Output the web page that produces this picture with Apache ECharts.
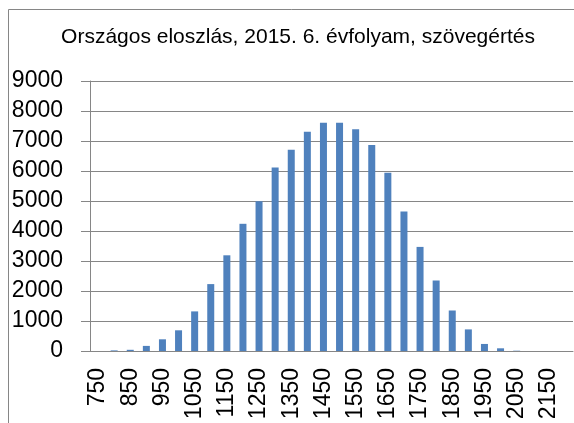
<!DOCTYPE html>
<html>
<head>
<meta charset="utf-8">
<script src="https://cdn.jsdelivr.net/npm/echarts@6/dist/echarts.min.js"></script>
<style>
    html, body { margin: 0; padding: 0; background: #ffffff; }
    #chart { width: 574px; height: 423px; }
</style>
</head>
<body>
<div id="chart"></div>
<script>
// score bands (x categories)
var scores = ['750', '800', '850', '900', '950', '1000', '1050', '1100', '1150', '1200',
    '1250', '1300', '1350', '1400', '1450', '1500', '1550', '1600', '1650', '1700',
    '1750', '1800', '1850', '1900', '1950', '2000', '2050', '2100', '2150', '2200'];
// number of students per band
var counts = [0, 20, 40, 170, 390, 690, 1320, 2230, 3190, 4240,
    4990, 6120, 6710, 7310, 7610, 7610, 7390, 6870, 5940, 4650,
    3470, 2350, 1350, 720, 235, 90, 10, 0, 0, 0];
var titleText = 'Országos eloszlás, 2015. 6. évfolyam, szövegértés';

var chart = echarts.init(document.getElementById('chart'));
var grey = '#868686';
var option = {
    backgroundColor: '#ffffff',
    animation: false,
    textStyle: { fontFamily: 'Liberation Sans' },
    title: {
        text: titleText,
        left: 293,
        top: 22,
        textAlign: 'center',
        textStyle: { fontFamily: 'Liberation Sans', fontSize: 21, fontWeight: 'normal', color: '#000000' }
    },
    graphic: [
        {
            type: 'rect',
            shape: { x: 8.5, y: 9.5, width: 700, height: 600 },
            style: { fill: 'none', stroke: grey, lineWidth: 1 },
            silent: true
        }
    ],
    grid: { left: 90, right: 1, top: 81, bottom: 72 },
    xAxis: {
        type: 'category',
        data: scores,
        boundaryGap: true,
        axisLine: { lineStyle: { color: grey } },
        axisTick: { interval: 0, length: 6, lineStyle: { color: grey } },
        axisLabel: {
            interval: 1,
            rotate: 90,
            margin: 17,
            fontSize: 23,
            color: '#000000',
            fontFamily: 'Liberation Sans'
        }
    },
    yAxis: {
        type: 'value',
        min: 0,
        max: 9000,
        interval: 1000,
        axisLine: { show: true, lineStyle: { color: grey } },
        axisTick: { show: true, length: 9, lineStyle: { color: grey } },
        splitLine: { lineStyle: { color: grey, width: 1 } },
        axisLabel: {
            margin: 27,
            fontSize: 23,
            color: '#000000',
            fontFamily: 'Liberation Sans',
            formatter: function (v) { return String(v); }
        }
    },
    series: [
        {
            name: 'tanulók',
            type: 'bar',
            data: counts,
            barWidth: 7,
            itemStyle: { color: '#4f81bd' }
        }
    ]
};
chart.setOption(option);
</script>
</body>
</html>
